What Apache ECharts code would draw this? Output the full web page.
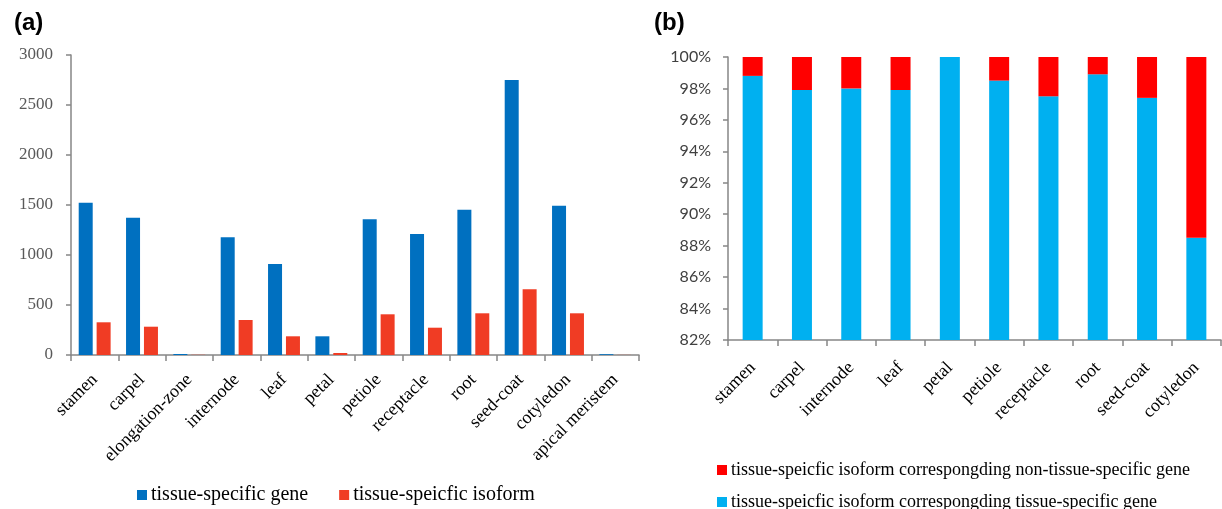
<!DOCTYPE html>
<html>
<head>
<meta charset="utf-8">
<script src="https://cdn.jsdelivr.net/npm/echarts@6/dist/echarts.min.js"></script>
<style>html,body{margin:0;padding:0;background:#fff;}#c{width:1222px;height:509px;}</style>
</head>
<body>
<div id="c"></div>
<script>
const catsA = ['stamen','carpel','elongation-zone','internode','leaf','petal','petiole','receptacle','root','seed-coat','cotyledon','apical meristem'];
const geneA = [1523, 1373, 10, 1177, 910, 187, 1357, 1210, 1453, 2750, 1493, 8];
const isoA  = [327, 283, 2, 350, 187, 20, 407, 273, 417, 657, 417, 1];
const yTicksA = [0, 500, 1000, 1500, 2000, 2500, 3000];

const catsB = ['stamen','carpel','internode','leaf','petal','petiole','receptacle','root','seed-coat','cotyledon'];
const tsGeneB = [98.8, 97.9, 98.0, 97.9, 100, 98.5, 97.5, 98.9, 97.4, 88.5];
const nonTsGeneB = tsGeneB.map(v => +(100 - v).toFixed(2));
const yTicksB = [82, 84, 86, 88, 90, 92, 94, 96, 98, 100];

const nameA1 = 'tissue-specific gene';
const nameA2 = 'tissue-speicfic isoform';
const nameB1 = 'tissue-speicfic isoform correspongding tissue-specific gene';
const nameB2 = 'tissue-speicfic isoform correspongding non-tissue-specific gene';

const serif = '"Liberation Serif", "DejaVu Serif", serif';
const axisGrey = '#868686';
const textGrey = '#595959';

const chart = echarts.init(document.getElementById('c'), null, {renderer: 'canvas'});
chart.setOption({
  animation: false,
  backgroundColor: '#fff',
  title: [
    {text: '(a)', left: 9, top: 6, textStyle: {fontFamily: '"Liberation Sans", Arial, sans-serif', fontSize: 24, fontWeight: 'bold', color: '#000'}},
    {text: '(b)', left: 649, top: 6, textStyle: {fontFamily: '"Liberation Sans", Arial, sans-serif', fontSize: 24, fontWeight: 'bold', color: '#000'}}
  ],
  legend: [
    {data: [nameA1, nameA2], left: 132, top: 480, itemWidth: 10, itemHeight: 10, itemGap: 31, icon: 'rect',
     textStyle: {fontFamily: serif, fontSize: 20, color: '#000', padding: [0,0,0,-1]}},
    {data: [nameB2], left: 712, top: 456, itemWidth: 10, itemHeight: 10, icon: 'rect',
     textStyle: {fontFamily: serif, fontSize: 18, color: '#000', padding: [0,0,0,-1]}},
    {data: [nameB1], left: 712, top: 488, itemWidth: 10, itemHeight: 10, icon: 'rect',
     textStyle: {fontFamily: serif, fontSize: 18, color: '#000', padding: [0,0,0,-1]}}
  ],
  grid: [
    {left: 71, top: 55, width: 568, height: 300},
    {left: 728, top: 57, width: 493, height: 283}
  ],
  xAxis: [
    {type: 'category', gridIndex: 0, data: catsA,
     axisLine: {lineStyle: {color: axisGrey, width: 1.5}},
     axisTick: {show: true, alignWithLabel: false, length: 6, lineStyle: {color: axisGrey, width: 1.5}},
     axisLabel: {rotate: 45, interval: 0, margin: 22, fontFamily: serif, fontSize: 18, color: '#000'}},
    {type: 'category', gridIndex: 1, data: catsB,
     axisLine: {lineStyle: {color: axisGrey, width: 1.5}},
     axisTick: {show: true, alignWithLabel: false, length: 6, lineStyle: {color: axisGrey, width: 1.5}},
     axisLabel: {rotate: 45, interval: 0, margin: 25, fontFamily: serif, fontSize: 18, color: '#000'}}
  ],
  yAxis: [
    {type: 'value', gridIndex: 0, min: yTicksA[0], max: yTicksA[yTicksA.length-1], interval: 500,
     axisLine: {show: true, lineStyle: {color: axisGrey, width: 1.5}},
     axisTick: {show: true, length: 5, lineStyle: {color: axisGrey, width: 1.5}},
     splitLine: {show: false},
     axisLabel: {margin: 18, fontFamily: serif, fontSize: 17, color: textGrey, formatter: v => String(v)}},
    {type: 'value', gridIndex: 1, min: yTicksB[0], max: yTicksB[yTicksB.length-1], interval: 2,
     axisLine: {show: true, lineStyle: {color: axisGrey, width: 1.5}},
     axisTick: {show: true, length: 5, lineStyle: {color: axisGrey, width: 1.5}},
     splitLine: {show: false},
     axisLabel: {margin: 17, fontFamily: 'Lato, "Open Sans", sans-serif', fontSize: 16, color: '#404040', formatter: '{value}%'}}
  ],
  series: [
    {name: nameA1, type: 'bar', xAxisIndex: 0, yAxisIndex: 0, data: geneA, barWidth: 14, barGap: '28%', itemStyle: {color: '#0070C0'}},
    {name: nameA2, type: 'bar', xAxisIndex: 0, yAxisIndex: 0, data: isoA, barWidth: 14, barGap: '28%', itemStyle: {color: '#F03C24'}},
    {name: nameB1, type: 'bar', xAxisIndex: 1, yAxisIndex: 1, stack: 'b', data: tsGeneB, barWidth: 20, itemStyle: {color: '#00B0F0'}},
    {name: nameB2, type: 'bar', xAxisIndex: 1, yAxisIndex: 1, stack: 'b', data: nonTsGeneB, barWidth: 20, itemStyle: {color: '#FF0000'}}
  ]
});
</script>
</body>
</html>
